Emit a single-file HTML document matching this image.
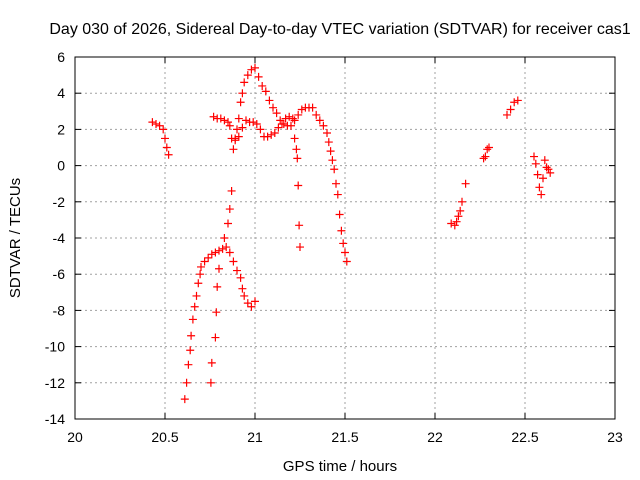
<!DOCTYPE html>
<html><head><meta charset="utf-8"><style>
body{margin:0;background:#fff;}
svg{display:block;font-family:"Liberation Sans",sans-serif;}
</style></head><body>
<svg id="chart" width="640" height="480">
<text x="340" y="34" text-anchor="middle" font-size="16">Day 030 of 2026, Sidereal Day-to-day VTEC variation (SDTVAR) for receiver cas1</text>
<g id="grid"></g><g id="ticks"></g><g id="pts"></g>
<rect x="75" y="57" width="540" height="362" fill="none" stroke="#000" stroke-width="1"/>
<text x="340" y="471" text-anchor="middle" font-size="15">GPS time / hours</text>
<text transform="translate(20,238) rotate(-90)" text-anchor="middle" font-size="15">SDTVAR / TECUs</text>
</svg>
<script>
const xTicks=[20,20.5,21,21.5,22,22.5,23];
const xTickLabels=["20","20.5","21","21.5","22","22.5","23"];
const yTicks=[6,4,2,0,-2,-4,-6,-8,-10,-12,-14];
const hours=[20.43,20.45,20.47,20.49,20.5,20.51,20.52,
20.61,20.62,20.63,20.64,20.645,20.655,20.665,20.675,20.685,20.695,20.70,20.72,20.74,20.76,20.78,20.80,20.82,20.84,20.86,20.88,20.90,20.92,20.93,20.94,20.96,20.98,21.0,
20.755,20.76,20.78,20.785,20.79,20.80,20.83,20.85,20.86,20.87,20.88,20.89,20.9,20.91,20.92,20.93,20.94,20.96,20.98,21.0,21.02,21.04,21.06,21.08,21.10,21.12,21.14,21.16,21.18,21.20,21.22,21.24,21.26,21.28,21.30,21.32,21.34,21.36,21.38,21.40,21.41,21.42,21.43,21.44,21.45,21.46,21.47,21.48,21.49,21.50,21.51,
20.77,20.79,20.81,20.83,20.85,20.86,20.87,20.89,20.91,20.93,20.95,20.97,20.99,21.01,21.03,21.05,21.07,21.09,21.11,21.13,21.15,21.17,21.19,21.21,21.22,21.23,21.235,21.24,21.245,21.25,
22.09,22.11,22.12,22.13,22.14,22.15,22.17,22.27,22.28,22.29,22.3,22.4,22.42,22.44,22.46,
22.55,22.56,22.57,22.58,22.59,22.6,22.61,22.62,22.63,22.64];
const sdtvar=[2.4,2.3,2.2,2.0,1.5,1.0,0.6,
-12.9,-12,-11,-10.2,-9.4,-8.5,-7.8,-7.2,-6.5,-6.0,-5.6,-5.3,-5.1,-4.9,-4.8,-4.7,-4.6,-4.5,-4.8,-5.3,-5.8,-6.2,-6.8,-7.2,-7.6,-7.8,-7.5,
-12,-10.9,-9.5,-8.1,-6.7,-5.7,-4.0,-3.2,-2.4,-1.4,0.9,1.5,2.0,2.6,3.5,4.0,4.6,5.0,5.3,5.4,4.9,4.4,4.1,3.6,3.2,2.9,2.5,2.3,2.2,2.2,2.5,2.8,3.1,3.2,3.2,3.2,2.8,2.5,2.2,1.8,1.3,0.8,0.3,-0.2,-1.0,-1.6,-2.7,-3.6,-4.3,-4.8,-5.3,
2.7,2.6,2.6,2.5,2.4,2.2,1.5,1.4,1.6,2.1,2.5,2.4,2.4,2.3,2.0,1.6,1.6,1.7,1.8,2.1,2.3,2.6,2.7,2.6,1.5,0.9,0.4,-1.1,-3.3,-4.5,
-3.2,-3.3,-3.1,-2.8,-2.5,-2.0,-1.0,0.4,0.5,0.9,1.0,2.8,3.1,3.5,3.6,
0.5,0.1,-0.5,-1.2,-1.6,-0.7,0.3,-0.1,-0.2,-0.4];
const L=75,R=615,T=57,B=419;
const sx=v=>L+(v-20)/3*(R-L);
const sy=v=>T+(6-v)/20*(B-T);
const NS="http://www.w3.org/2000/svg";
const g=document.getElementById('grid'),tk=document.getElementById('ticks'),p=document.getElementById('pts');
function mk(tag,attrs,parent){const e=document.createElementNS(NS,tag);for(const k in attrs)e.setAttribute(k,attrs[k]);parent.appendChild(e);return e;}
xTicks.forEach((v,i)=>{
 const x=sx(v);
 if(i>0&&i<xTicks.length-1){const l=mk('line',{x1:x,x2:x,y1:T,y2:B,stroke:'#a0a0a0','stroke-dasharray':'2,3'},g);
 
 }
 mk('line',{x1:x,x2:x,y1:B,y2:B-6,stroke:'#000'},tk);mk('line',{x1:x,x2:x,y1:T,y2:T+6,stroke:'#000'},tk);
 const t=mk('text',{x:x,y:B+23,'text-anchor':'middle','font-size':14},tk);t.textContent=xTickLabels[i];
 
 
});
yTicks.forEach((v,i)=>{
 const y=sy(v);
 if(i>0&&i<yTicks.length-1){const l=mk('line',{x1:L,x2:R,y1:y,y2:y,stroke:'#a0a0a0','stroke-dasharray':'2,3'},g);
 
 }
 mk('line',{x1:L,x2:L+6,y1:y,y2:y,stroke:'#000'},tk);mk('line',{x1:R,x2:R-6,y1:y,y2:y,stroke:'#000'},tk);
 const t=mk('text',{x:L-10,y:y+5,'text-anchor':'end','font-size':14},tk);t.textContent=String(v);
 
 
});
hours.forEach((h,i)=>{
 const x=sx(h),y=sy(sdtvar[i]);
 const e=mk('path',{d:`M${x-4},${y}H${x+4}M${x},${y-4}V${y+4}`,stroke:'#f00','stroke-width':1.2},p);
 
 
});
</script>
</body></html>
